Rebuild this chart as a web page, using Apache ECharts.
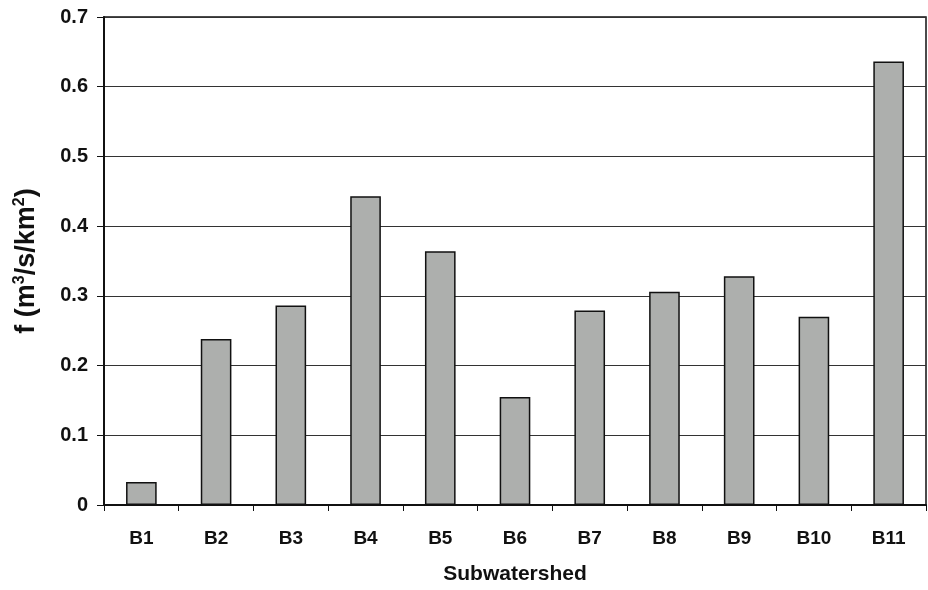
<!DOCTYPE html>
<html>
<head>
<meta charset="utf-8">
<script src="https://cdn.jsdelivr.net/npm/echarts@6/dist/echarts.min.js"></script>
<style>
  html, body { margin: 0; padding: 0; background: #fff; }
  #chart { width: 928px; height: 590px; }
</style>
</head>
<body>
<div id="chart"></div>
<script>
const categories = ["B1", "B2", "B3", "B4", "B5", "B6", "B7", "B8", "B9", "B10", "B11"];
const fValues = [0.033, 0.238, 0.286, 0.443, 0.364, 0.155, 0.279, 0.306, 0.328, 0.270, 0.636];
const yTicks = [0, 0.1, 0.2, 0.3, 0.4, 0.5, 0.6, 0.7];

const fontFamily = "'Liberation Sans', Arial, sans-serif";

const myChart = echarts.init(document.getElementById("chart"), null, { renderer: "canvas" });

myChart.setOption({
  backgroundColor: "#fff",
  animation: false,
  grid: {
    left: 104,
    right: 2,
    top: 17,
    bottom: 82,
    show: true,
    borderColor: "#111",
    borderWidth: 1.5,
    backgroundColor: "transparent"
  },
  xAxis: {
    type: "category",
    data: categories,
    name: "Subwatershed",
    nameLocation: "middle",
    nameGap: 59,
    nameTextStyle: { fontFamily: fontFamily, fontWeight: "bold", fontSize: 21, color: "#111" },
    axisLine: { lineStyle: { color: "#111", width: 2 } },
    axisTick: { show: true, length: 6, lineStyle: { color: "#111", width: 1 } },
    axisLabel: { fontFamily: fontFamily, fontWeight: "bold", fontSize: 19, color: "#111", margin: 24 }
  },
  yAxis: {
    type: "value",
    min: yTicks[0],
    max: yTicks[yTicks.length - 1],
    interval: 0.1,
    name: "{n|f (m}{s|3}{n|/s/km}{s|2}{n|)}",
    nameLocation: "middle",
    nameGap: 60,
    nameRotate: 90,
    nameTextStyle: {
      fontFamily: fontFamily, fontWeight: "bold", fontSize: 27, color: "#111",
      rich: {
        n: { fontFamily: fontFamily, fontWeight: "bold", fontSize: 27, color: "#111", lineHeight: 34 },
        s: { fontFamily: fontFamily, fontWeight: "bold", fontSize: 16, color: "#111", lineHeight: 34, padding: [0, 0, 14, 0] }
      }
    },
    axisLine: { show: true, lineStyle: { color: "#111", width: 2 } },
    axisTick: { show: true, length: 7, lineStyle: { color: "#111", width: 1 } },
    axisLabel: {
      fontFamily: fontFamily, fontWeight: "bold", fontSize: 20, color: "#111", margin: 16,
      formatter: function (v) { return v === 0 ? "0" : v.toFixed(1); }
    },
    splitLine: { show: true, lineStyle: { color: "#333", width: 1 } }
  },
  series: [{
    type: "bar",
    data: fValues,
    barWidth: "41%",
    itemStyle: { color: "#adafad", borderColor: "#111", borderWidth: 1.5 }
  }]
});
</script>
</body>
</html>
